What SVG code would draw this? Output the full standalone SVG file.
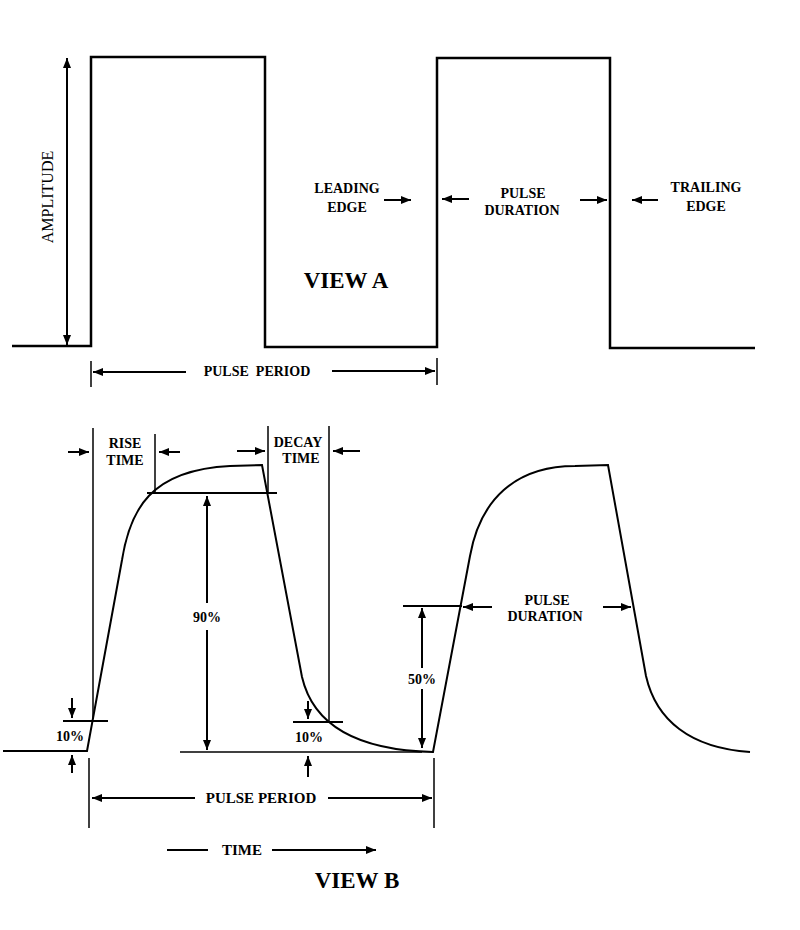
<svg xmlns="http://www.w3.org/2000/svg" width="800" height="930" viewBox="0 0 800 930">
<defs>
<marker id="ah" markerUnits="userSpaceOnUse" markerWidth="10" markerHeight="8" refX="10" refY="4" orient="auto-start-reverse">
<path d="M0,0 L10,4 L0,8 z" fill="#000"/>
</marker>
<style>
.wave{fill:none;stroke:#000;stroke-width:2.5;stroke-linejoin:miter}
.curve{fill:none;stroke:#000;stroke-width:2}
.ref{fill:none;stroke:#000;stroke-width:1.5}
.hl{fill:none;stroke:#000;stroke-width:2}
.arr{fill:none;stroke:#000;stroke-width:2;marker-end:url(#ah)}
.lbl{font-family:"Liberation Serif","Times New Roman",serif;font-weight:bold;font-size:14px;fill:#000;text-anchor:middle}
.big{font-family:"Liberation Serif","Times New Roman",serif;font-weight:bold;font-size:23px;fill:#000;text-anchor:middle}
.amp{font-family:"Liberation Serif","Times New Roman",serif;font-size:16px;fill:#000;text-anchor:middle}
</style>
</defs>
<rect width="800" height="930" fill="#fff"/>

<g id="viewA-waveform">
<path class="wave" d="M12,346 L91,346 L91,57 L265,57 L265,347 L437,347 L437,58 L610,58 L610,348 L755,348"/>
</g>

<g id="viewB-waveform">
<path class="curve" d="M3,751 L87,751 L122,560 C130,510 150,470 230,466 L262,465 L302,677 C312,720 350,750 433,752 L470,556 C480,500 515,466 575,466 L608,465 L646,676 C656,720 690,748 750,752"/>
</g>

<g id="connectors">
<line class="arr" x1="67" y1="200" x2="67" y2="58"/>
<line class="arr" x1="67" y1="200" x2="67" y2="345"/>
<line class="arr" x1="384" y1="200" x2="411" y2="200"/>
<line class="arr" x1="469" y1="199" x2="442" y2="199"/>
<line class="arr" x1="580" y1="200" x2="607" y2="200"/>
<line class="arr" x1="658" y1="200" x2="632" y2="200"/>
<line class="ref" x1="91" y1="361" x2="91" y2="387"/>
<line class="ref" x1="437" y1="358" x2="437" y2="385"/>
<line class="arr" x1="186" y1="372" x2="93" y2="372"/>
<line class="arr" x1="332" y1="371" x2="435" y2="371"/>

<line class="ref" x1="93" y1="428" x2="93" y2="719"/>
<line class="ref" x1="155" y1="434" x2="155" y2="493"/>
<line class="ref" x1="268" y1="426" x2="268" y2="493"/>
<line class="ref" x1="329" y1="426" x2="329" y2="722"/>
<line class="hl" x1="147" y1="493" x2="277" y2="493"/>
<line class="hl" x1="63" y1="721" x2="108" y2="721"/>
<line class="hl" x1="293" y1="722" x2="343" y2="722"/>
<line class="hl" x1="403" y1="606" x2="462" y2="606"/>
<line class="ref" x1="180" y1="752" x2="422" y2="752"/>
<line class="ref" x1="89" y1="758" x2="89" y2="828"/>
<line class="ref" x1="434" y1="758" x2="434" y2="828"/>

<line class="arr" x1="68" y1="452" x2="89" y2="452"/>
<line class="arr" x1="180" y1="452" x2="159" y2="452"/>
<line class="arr" x1="237" y1="451" x2="265" y2="451"/>
<line class="arr" x1="360" y1="451" x2="333" y2="451"/>
<line class="arr" x1="207" y1="603" x2="207" y2="496"/>
<line class="arr" x1="207" y1="630" x2="207" y2="750"/>
<line class="arr" x1="422" y1="668" x2="422" y2="608"/>
<line class="arr" x1="422" y1="689" x2="422" y2="748"/>
<line class="arr" x1="72" y1="698" x2="72" y2="718"/>
<line class="arr" x1="72" y1="773" x2="72" y2="755"/>
<line class="arr" x1="308" y1="701" x2="308" y2="719"/>
<line class="arr" x1="308" y1="777" x2="308" y2="756"/>
<line class="arr" x1="492" y1="607" x2="463" y2="607"/>
<line class="arr" x1="603" y1="607" x2="631" y2="607"/>
<line class="arr" x1="195" y1="798" x2="92" y2="798"/>
<line class="arr" x1="328" y1="798" x2="432" y2="798"/>
<line class="hl" x1="167" y1="850" x2="208" y2="850"/>
<line class="arr" x1="272" y1="850" x2="376" y2="850"/>
</g>

<g id="labels-viewA">
<text class="amp" transform="translate(53,197) rotate(-90)">AMPLITUDE</text>
<text class="lbl" x="347" y="193">LEADING</text>
<text class="lbl" x="347" y="212">EDGE</text>
<text class="lbl" x="523" y="198">PULSE</text>
<text class="lbl" x="522" y="215">DURATION</text>
<text class="lbl" x="706" y="192">TRAILING</text>
<text class="lbl" x="706" y="211">EDGE</text>
<text class="big" x="346" y="288">VIEW A</text>
<text class="lbl" x="257" y="376">PULSE&#160; PERIOD</text>
</g>

<g id="labels-viewB">
<text class="lbl" x="125" y="448">RISE</text>
<text class="lbl" x="125" y="465">TIME</text>
<text class="lbl" x="298" y="447">DECAY</text>
<text class="lbl" x="301" y="463">TIME</text>
<text class="lbl" x="207" y="622">90%</text>
<text class="lbl" x="422" y="684">50%</text>
<text class="lbl" x="70" y="741">10%</text>
<text class="lbl" x="309" y="742">10%</text>
<text class="lbl" x="547" y="605">PULSE</text>
<text class="lbl" x="545" y="621">DURATION</text>
<text class="lbl" x="261" y="803" style="font-size:15px">PULSE PERIOD</text>
<text class="lbl" x="242" y="855" style="font-size:15px">TIME</text>
<text class="big" x="357" y="888">VIEW B</text>
</g>
</svg>
